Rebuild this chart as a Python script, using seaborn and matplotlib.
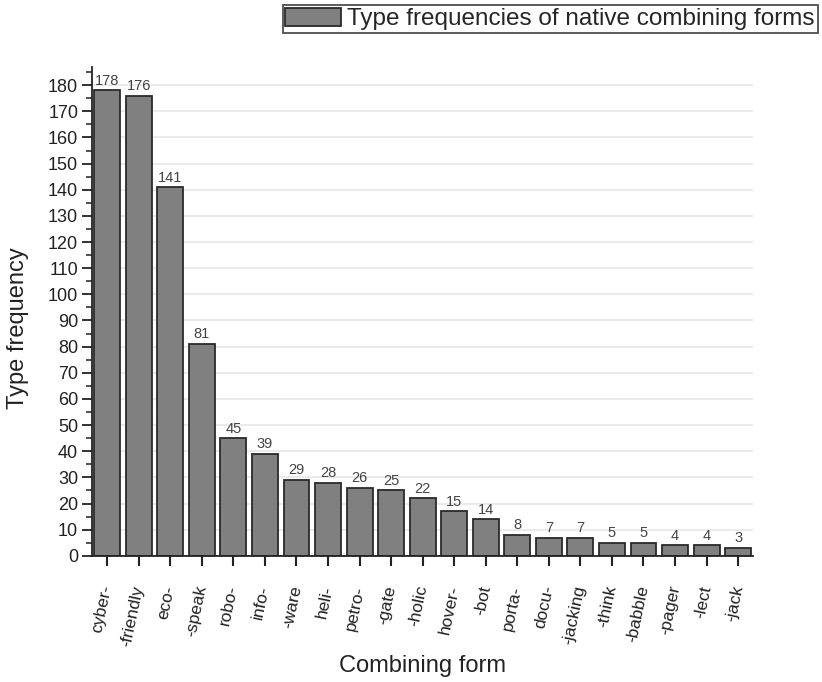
import matplotlib
matplotlib.use('Agg')
import matplotlib.pyplot as plt
import seaborn as sns
import pandas as pd
from matplotlib.ticker import MultipleLocator

# Data
forms = ['cyber-', '-friendly', 'eco-', '-speak', 'robo-', 'info-', '-ware', 'heli-',
         'petro-', '-gate', '-holic', 'hover-', '-bot', 'porta-', 'docu-', '-jacking',
         '-think', '-babble', '-pager', '-lect', '-jack']
values = [178, 176, 141, 81, 45, 39, 29, 28, 26, 25, 22, 17, 14, 8, 7, 7, 5, 5, 4, 4, 3]
# printed labels (hover- bar is drawn a bit taller than its printed label)
labels = ['178', '176', '141', '81', '45', '39', '29', '28', '26', '25', '22', '15', '14',
          '8', '7', '7', '5', '5', '4', '4', '3']

df = pd.DataFrame({'form': forms, 'freq': values})

sns.set_style('white')
plt.rcParams['font.family'] = ['Liberation Sans', 'DejaVu Sans']

fig = plt.figure(figsize=(8.22, 6.82), dpi=100)
ax = fig.add_axes([0.112, 0.185, 0.804, 0.717])

sns.barplot(data=df, x='form', y='freq', color='#808080', saturation=1,
            edgecolor='#2a2a2a', linewidth=1.3, width=0.82, ax=ax,
            label='Type frequencies of native combining forms')

for bar, txt in zip(ax.patches, labels):
    ax.text(bar.get_x() + bar.get_width() / 2, bar.get_height() + 1.0, txt,
            ha='center', va='bottom', fontsize=10.5, color='#444444')

ax.set_ylim(0, 187)
ax.set_xlim(-0.48, len(forms) - 0.53)
ax.yaxis.set_minor_locator(MultipleLocator(5))
ax.set_yticks(range(0, 181, 10))
ax.grid(axis='y', color='#ebebeb', linewidth=1.5)
ax.set_axisbelow(True)

for s in ['top', 'right']:
    ax.spines[s].set_visible(False)
for s in ['left', 'bottom']:
    ax.spines[s].set_color('#222222')
    ax.spines[s].set_linewidth(1.3)

ax.tick_params(axis='y', which='major', direction='out', length=7, width=1.3,
               left=True, labelsize=13, color='#222222', labelcolor='#222222', pad=3)
ax.tick_params(axis='y', which='minor', direction='out', length=4, width=1.1,
               left=True, color='#222222')
ax.tick_params(axis='x', which='major', direction='out', length=7.5, width=1.5,
               bottom=True, labelsize=12.5, color='#222222', labelcolor='#222222', pad=14)
plt.setp(ax.get_xticklabels(), rotation=78, ha='right', va='center',
         rotation_mode='anchor')

ax.set_xlabel('Combining form', fontsize=17, color='#222222')
ax.set_ylabel('Type frequency', fontsize=17, color='#222222')
ax.xaxis.set_label_coords(0.5, -0.225)
ax.xaxis.label.set_va('center')
ax.yaxis.set_label_coords(-0.112, 0.465)
ax.yaxis.label.set_va('center')

leg = ax.legend(loc='upper right', bbox_to_anchor=(0.995, 0.993),
                bbox_transform=fig.transFigure, fontsize=17.5, frameon=True,
                fancybox=False, edgecolor='#222222', borderpad=0.12,
                handlelength=2.3, handleheight=0.8, handletextpad=0.25,
                borderaxespad=0.0)
leg.get_frame().set_linewidth(1.3)

fig.savefig('out.png', dpi=100)
